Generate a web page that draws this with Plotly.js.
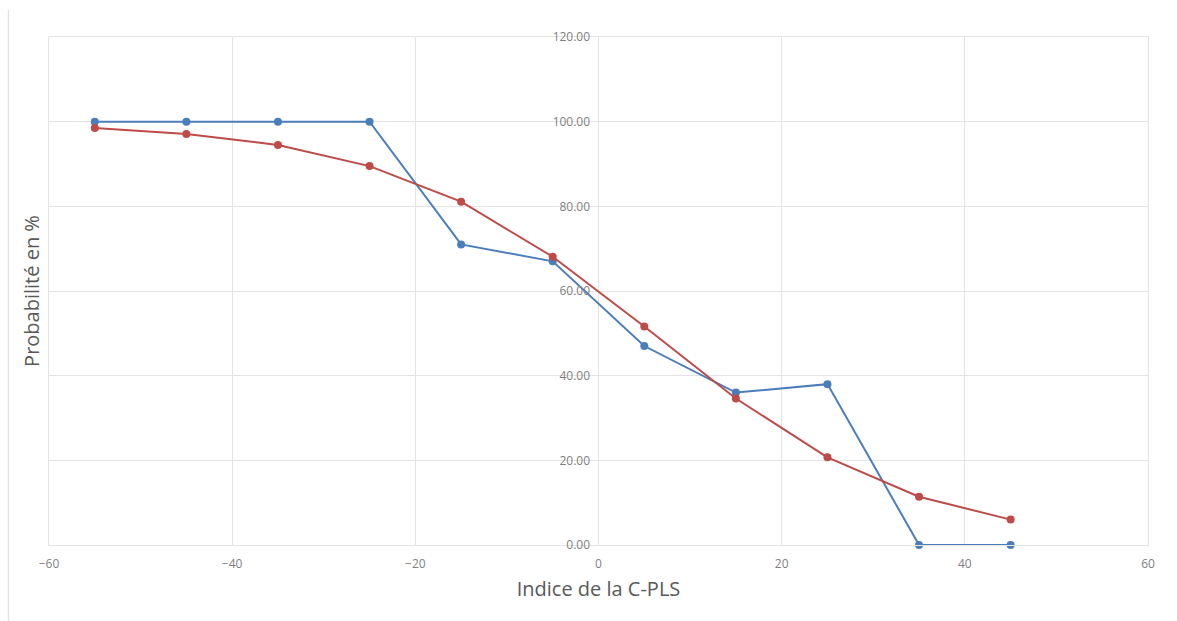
<!DOCTYPE html>
<html>
<head>
<meta charset="utf-8">
<script src="https://cdn.plot.ly/plotly-3.0.1.min.js"></script>
<style>
  html, body { margin: 0; padding: 0; background: #ffffff; }
  #container { width: 1177px; height: 621px; }
</style>
</head>
<body>
<div id="container"></div>
<script>
// valeurs
var indiceCPLS = [-55, -45, -35, -25, -15, -5, 5, 15, 25, 35, 45];
var probObservee = [100, 100, 100, 100, 71, 67, 47, 36, 38, 0, 0];
var probModele = [98.5, 97.1, 94.5, 89.5, 81.1, 68.1, 51.6, 34.6, 20.7, 11.4, 6.0];
var yTicks = [0, 20, 40, 60, 80, 100, 120];

var gridColor = '#e4e4e4';
var tickGrey = '#7f7f7f';

var observee = {
    x: indiceCPLS,
    y: probObservee,
    mode: 'lines+markers',
    type: 'scatter',
    name: 'Observée',
    cliponaxis: false,
    line: {color: '#4a7ebb', width: 2},
    marker: {size: 8, color: '#4a7ebb'}
};

// sur y2 pour que les étiquettes de l'axe central soient dessinées
var modele = {
    x: indiceCPLS,
    y: probModele,
    yaxis: 'y2',
    mode: 'lines+markers',
    type: 'scatter',
    name: 'Modèle',
    cliponaxis: false,
    line: {color: '#be4b48', width: 2},
    marker: {size: 8, color: '#be4b48'}
};

var layout = {
    showlegend: false,
    width: 1177,
    height: 621,
    paper_bgcolor: '#ffffff',
    plot_bgcolor: '#ffffff',
    margin: {l: 49, r: 29, t: 37, b: 76},
    font: {family: 'Open Sans, sans-serif', color: '#595959'},
    xaxis: {
        range: [-60, 60],
        dtick: 20,
        tick0: 0,
        showgrid: true,
        gridcolor: gridColor,
        zeroline: false,
        showline: true,
        mirror: true,
        linecolor: gridColor,
        ticks: 'outside',
        ticklen: 8,
        tickcolor: 'rgba(0,0,0,0)',
        tickfont: {size: 12, color: tickGrey},
        title: {
            text: 'Indice de la C-PLS',
            font: {size: 20, color: '#595959'},
            standoff: 10
        }
    },
    yaxis: {
        range: [0, 120],
        tickvals: yTicks,
        showgrid: true,
        gridcolor: gridColor,
        zeroline: false,
        showline: true,
        mirror: true,
        linecolor: gridColor,
        showticklabels: false,
        title: {
            text: 'Probabilité en %',
            font: {size: 20, color: '#595959'},
            standoff: 3
        }
    },
    yaxis2: {
        overlaying: 'y',
        anchor: 'free',
        position: 0.5,
        range: [0, 120],
        tickvals: yTicks,
        tickformat: '.2f',
        showgrid: false,
        zeroline: false,
        showline: false,
        ticks: 'outside',
        ticklen: 6,
        tickcolor: 'rgba(0,0,0,0)',
        tickfont: {size: 12, color: tickGrey}
    },
    shapes: [
        {
            type: 'line',
            xref: 'paper',
            yref: 'paper',
            x0: -0.037,
            x1: -0.037,
            y0: -0.16,
            y1: 1.053,
            line: {color: '#d9d9d9', width: 1}
        }
    ]
};

Plotly.newPlot('container', [observee, modele], layout, {displayModeBar: false, staticPlot: true});
</script>
</body>
</html>
